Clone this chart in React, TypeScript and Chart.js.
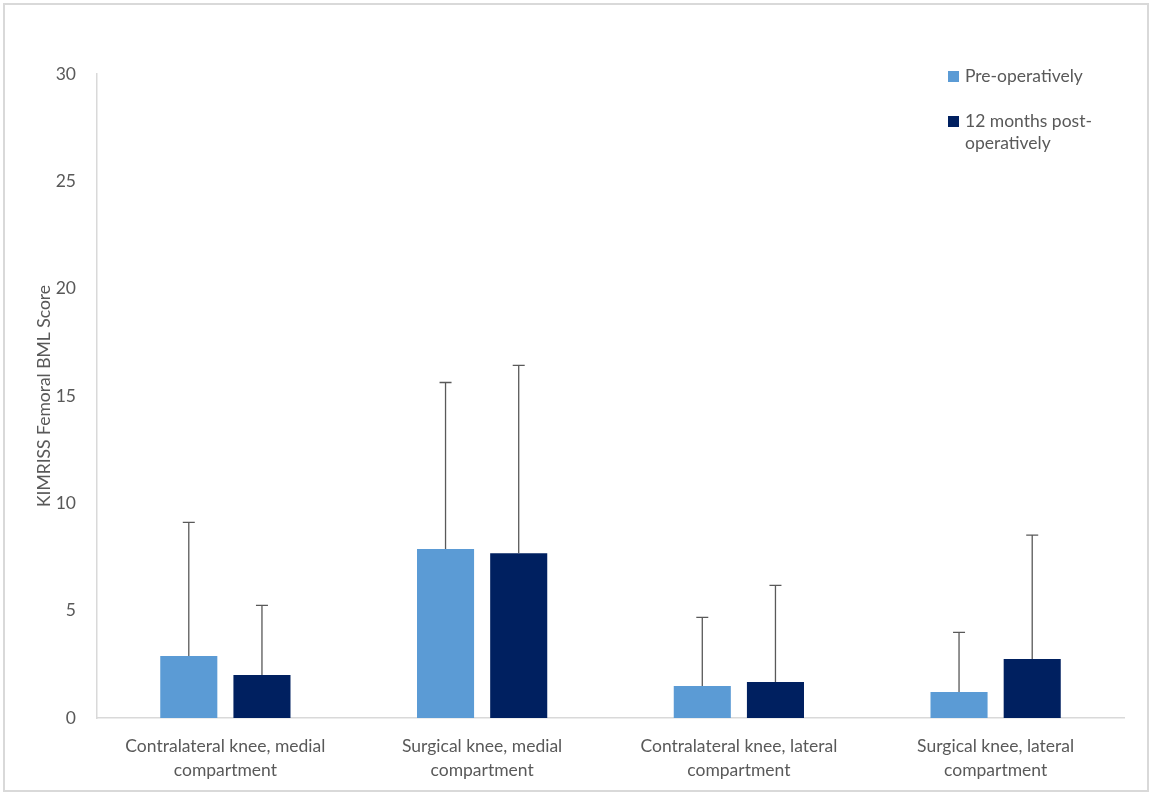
import React, { useEffect, useRef } from 'react';
import { Chart, registerables, Plugin } from 'chart.js';

Chart.register(...registerables);

// Dados
const categories: string[][] = [
    ['Contralateral knee, medial', 'compartment'],
    ['Surgical knee, medial', 'compartment'],
    ['Contralateral knee, lateral', 'compartment'],
    ['Surgical knee, lateral', 'compartment'],
];
const preOp = [2.89, 7.87, 1.49, 1.21];
const preOpErr = [6.22, 7.76, 3.2, 2.78];
const postOp = [2.0, 7.68, 1.68, 2.75];
const postOpErr = [3.25, 8.75, 4.5, 5.77];
const seriesLabels = ['Pre-operatively', '12 months post-operatively'];
const legendLines = [['Pre-operatively'], ['12 months post-', 'operatively']];
const yTicks = [0, 5, 10, 15, 20, 25, 30];

const FONT = 'Lato, "Open Sans", sans-serif';
const FS = 17.5;
const TEXT = '#595959';
const colors = ['#5B9BD5', '#002060'];
const errors = [preOpErr, postOpErr];

// Barras de erro (somente para cima)
const errorBars: Plugin<'bar'> = {
    id: 'errorBars',
    afterDatasetsDraw(chart) {
        const { ctx } = chart;
        const yScale = chart.scales.y;
        ctx.save();
        ctx.strokeStyle = '#595959';
        ctx.lineWidth = 1.3;
        chart.data.datasets.forEach((ds, i) => {
            const meta = chart.getDatasetMeta(i);
            meta.data.forEach((el: any, j) => {
                const v = ds.data[j] as number;
                const top = yScale.getPixelForValue(v + errors[i][j]);
                ctx.beginPath();
                ctx.moveTo(el.x, el.y);
                ctx.lineTo(el.x, top);
                ctx.moveTo(el.x - 6, top);
                ctx.lineTo(el.x + 6, top);
                ctx.stroke();
            });
        });
        ctx.restore();
    },
};

// Legenda desenhada dentro da área do gráfico
const innerLegend: Plugin<'bar'> = {
    id: 'innerLegend',
    afterDraw(chart) {
        const { ctx, chartArea } = chart;
        const x0 = chartArea.right - 176;
        let y = chartArea.top + 2;
        ctx.save();
        ctx.font = `${FS}px ${FONT}`;
        ctx.textBaseline = 'middle';
        legendLines.forEach((lines, i) => {
            ctx.fillStyle = colors[i];
            ctx.fillRect(x0, y - 5, 11, 11);
            ctx.fillStyle = TEXT;
            lines.forEach((t, k) => ctx.fillText(t, x0 + 17, y + k * 22));
            y += 45;
        });
        ctx.restore();
    },
};

const App: React.FC = () => {
    const canvasRef = useRef<HTMLCanvasElement>(null);
    const chartRef = useRef<Chart | null>(null);

    useEffect(() => {
        document.body.style.margin = '0';
        if (!canvasRef.current) return;
        if (chartRef.current) chartRef.current.destroy();

        chartRef.current = new Chart(canvasRef.current, {
            type: 'bar',
            data: {
                labels: categories,
                datasets: [
                    { label: seriesLabels[0], data: preOp, backgroundColor: colors[0] },
                    { label: seriesLabels[1], data: postOp, backgroundColor: colors[1] },
                ],
            },
            options: {
                animation: false,
                responsive: true,
                maintainAspectRatio: false,
                layout: { padding: { left: 0, top: 74, right: 27, bottom: 0 } },
                datasets: { bar: { categoryPercentage: 0.57, barPercentage: 0.78 } },
                plugins: {
                    legend: { display: false },
                    tooltip: { enabled: false },
                },
                scales: {
                    x: {
                        grid: { display: false },
                        border: { display: true, color: '#d9d9d9', width: 1.5 },
                        ticks: {
                            color: TEXT,
                            font: { family: FONT, size: FS, lineHeight: 1.37 },
                            padding: 8,
                            maxRotation: 0,
                        },
                        afterFit: (s: any) => { s.height = 795 - 718; },
                    },
                    y: {
                        min: 0,
                        max: 30,
                        afterBuildTicks: (s: any) => { s.ticks = yTicks.map((v) => ({ value: v })); },
                        grid: { display: false },
                        border: { display: true, color: '#d9d9d9', width: 1.5 },
                        ticks: {
                            color: TEXT,
                            font: { family: FONT, size: FS },
                            padding: 13,
                        },
                        title: {
                            display: true,
                            text: 'KIMRISS Femoral BML Score',
                            color: TEXT,
                            font: { family: FONT, size: FS },
                            padding: { top: 34, bottom: 0 },
                        },
                        afterFit: (s: any) => { s.width = 97; },
                    },
                },
            },
            plugins: [errorBars, innerLegend],
        });

        return () => {
            if (chartRef.current) chartRef.current.destroy();
        };
    }, []);

    return (
        <div style={{ position: 'relative', width: 1151, height: 795, background: '#fff' }}>
            <div
                style={{
                    position: 'absolute',
                    left: 3,
                    top: 3,
                    width: 1142,
                    height: 785,
                    border: '2px solid #d9d9d9',
                    pointerEvents: 'none',
                }}
            />
            <canvas ref={canvasRef} />
        </div>
    );
};

export default App;
